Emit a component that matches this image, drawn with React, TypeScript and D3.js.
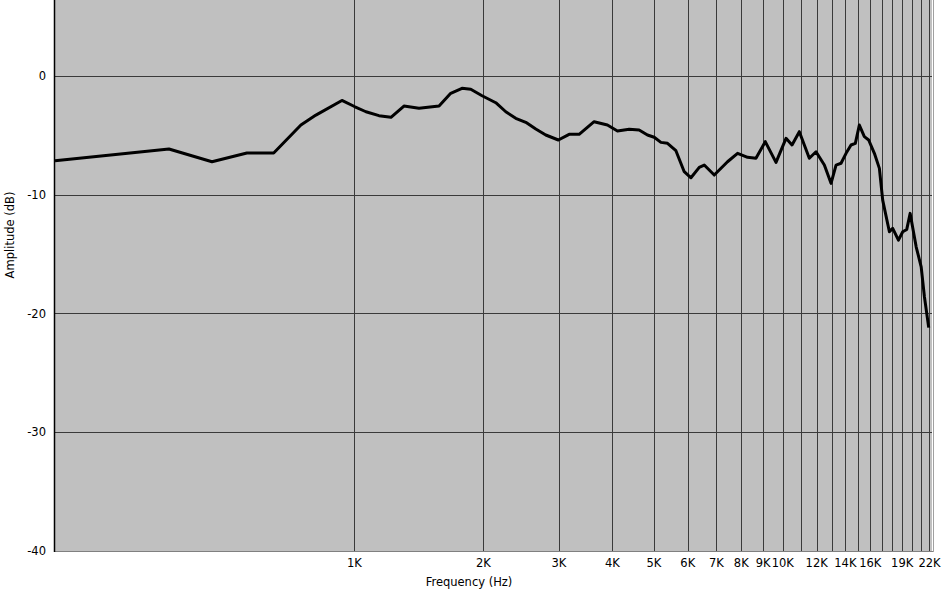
import React, { useEffect, useRef } from "react";
import * as d3 from "d3";

const freqs: number[] = [
  200, 369, 465, 561, 648, 750, 813, 935, 1000, 1064, 1141, 1217, 1305, 1415, 1576,
  1678, 1783, 1869, 1986, 2138, 2256, 2380, 2512, 2651, 2797, 2993, 3171, 3346, 3627,
  3896, 4112, 4379, 4620, 4832, 5010, 5194, 5381, 5630, 5887, 6104, 6382, 6556, 6918,
  7430, 7842, 8276, 8656, 9101, 9641, 10175, 10508, 10930, 11532, 11956, 12503, 12960,
  13314, 13677, 14050, 14431, 14770, 15090, 15502, 15866, 16360, 16806, 17108, 17735,
  18054, 18620, 19055, 19470, 19830, 20480, 21040, 21410, 21910,
];
const amps: number[] = [
  -7.14, -6.15, -7.22, -6.49, -6.49, -4.13, -3.29, -2.06, -2.57, -3.01, -3.34, -3.48,
  -2.53, -2.72, -2.53, -1.46, -1.04, -1.12, -1.66, -2.25, -3.01, -3.56, -3.9, -4.47,
  -4.97, -5.39, -4.91, -4.91, -3.85, -4.13, -4.63, -4.49, -4.55, -4.97, -5.16, -5.59,
  -5.67, -6.29, -8.06, -8.57, -7.69, -7.5, -8.34, -7.22, -6.51, -6.85, -6.93, -5.53,
  -7.27, -5.25, -5.81, -4.69, -6.93, -6.38, -7.5, -9.04, -7.5, -7.35, -6.51, -5.81,
  -5.67, -4.13, -5.11, -5.39, -6.51, -7.78, -10.45, -13.12, -12.83, -13.82, -13.12,
  -12.92, -11.57, -14.38, -16.07, -18.59, -21.19,
];
const gridFreqs: number[] = [
  1000, 2000, 3000, 4000, 5000, 6000, 7000, 8000, 9000, 10000, 11000, 12000, 13000,
  14000, 15000, 16000, 17000, 18000, 19000, 20000, 21000, 22000,
];
const labelFreqs: number[] = [1000, 2000, 3000, 4000, 5000, 6000, 7000, 8000, 9000, 10000, 12000, 14000, 16000, 19000, 22000];
const yTicks: number[] = [0, -10, -20, -30, -40];

const W = 942;
const H = 590;
const L = 55;
const R = 932;
const T = 0;
const B = 551;

export default function App() {
  const ref = useRef<SVGSVGElement | null>(null);
  useEffect(() => {
    document.body.style.margin = "0";
    const svg = d3.select(ref.current!);
    svg.selectAll("*").remove();
    const x = d3.scaleLog().domain([200, 22300]).range([L, R]);
    const y = d3.scaleLinear().domain([-40, 6.4]).range([B, T]);
    const font = "'DejaVu Sans', Verdana, sans-serif";
    const fs = 11.5;

    svg.append("rect").attr("x", 0).attr("y", 0).attr("width", W).attr("height", H).attr("fill", "#ffffff");
    svg.append("rect").attr("x", L).attr("y", T).attr("width", R - L).attr("height", B - T).attr("fill", "#c0c0c0");

    svg.append("g").selectAll("line").data(gridFreqs).join("line")
      .attr("x1", (d) => Math.round(x(d)) + 0.5).attr("x2", (d) => Math.round(x(d)) + 0.5)
      .attr("y1", T).attr("y2", B)
      .attr("stroke", "#3a3a3a").attr("stroke-width", 1);

    svg.append("g").selectAll("line").data(yTicks.filter((d) => d > -40)).join("line")
      .attr("x1", L).attr("x2", R)
      .attr("y1", (d) => Math.round(y(d)) + 0.5).attr("y2", (d) => Math.round(y(d)) + 0.5)
      .attr("stroke", "#3a3a3a").attr("stroke-width", 1);

    // borders
    svg.append("line").attr("x1", L).attr("x2", R + 2).attr("y1", B + 0.5).attr("y2", B + 0.5).attr("stroke", "#808080");
    svg.append("line").attr("x1", R + 0.5).attr("x2", R + 0.5).attr("y1", T).attr("y2", B).attr("stroke", "#ffffff");
    svg.append("line").attr("x1", R + 1.5).attr("x2", R + 1.5).attr("y1", T).attr("y2", B + 1).attr("stroke", "#a0a0a0");
    svg.append("line").attr("x1", L - 0.5).attr("x2", L - 0.5).attr("y1", T).attr("y2", B + 1).attr("stroke", "#000000").attr("stroke-width", 1.5);

    const pts: [number, number][] = freqs.map((f, i) => [f, amps[i]]);
    const line = d3.line<[number, number]>().x((d) => x(d[0])).y((d) => y(d[1]));
    svg.append("path").datum(pts).attr("d", line).attr("fill", "none")
      .attr("stroke", "#000000").attr("stroke-width", 3).attr("stroke-linejoin", "round");

    svg.append("g").selectAll("text").data(yTicks).join("text")
      .attr("x", 46).attr("y", (d) => y(d)).attr("dy", "0.35em")
      .attr("text-anchor", "end").attr("font-family", font).attr("font-size", fs)
      .text((d) => String(d));

    svg.append("g").selectAll("text").data(labelFreqs).join("text")
      .attr("x", (d) => x(d)).attr("y", 567)
      .attr("text-anchor", "middle").attr("font-family", font).attr("font-size", fs)
      .text((d) => `${d / 1000}K`);

    svg.append("text").attr("x", 469).attr("y", 586).attr("text-anchor", "middle")
      .attr("font-family", font).attr("font-size", fs).text("Frequency (Hz)");

    svg.append("text").attr("transform", "translate(14,235) rotate(-90)").attr("text-anchor", "middle")
      .attr("font-family", font).attr("font-size", fs).text("Amplitude (dB)");
  }, []);
  return <svg ref={ref} width={W} height={H} style={{ display: "block" }} />;
}
